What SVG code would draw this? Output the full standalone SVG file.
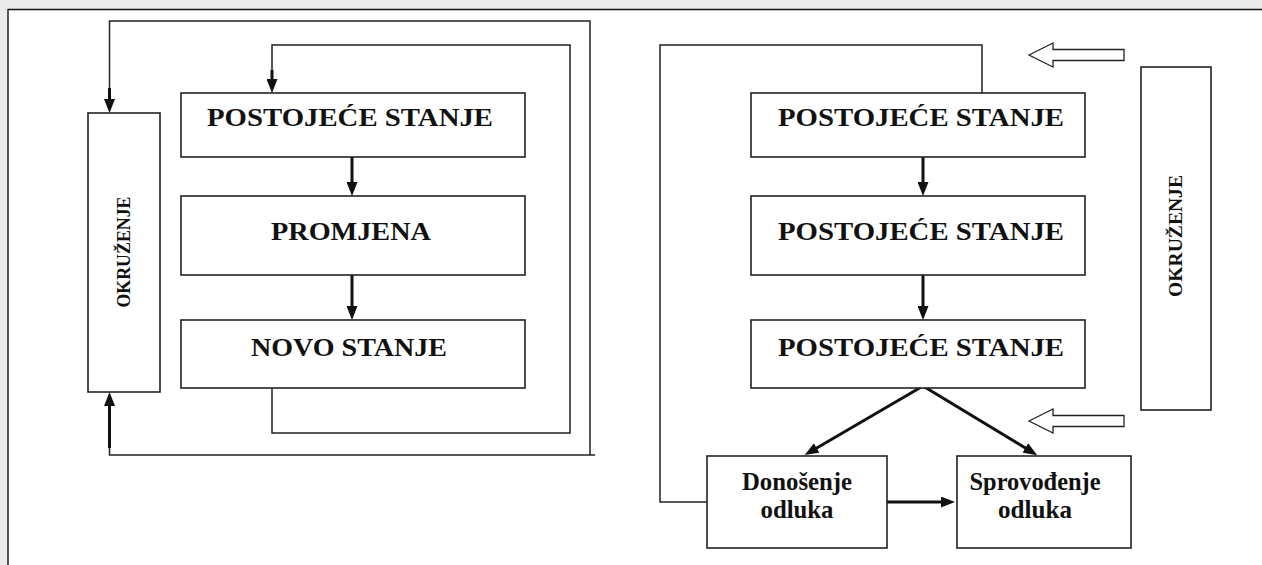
<svg xmlns="http://www.w3.org/2000/svg" width="1262" height="565" viewBox="0 0 1262 565">
  <style>
    .box { fill: #ffffff; stroke: #222; stroke-width: 1.6; }
    .wire { fill: none; stroke: #222; stroke-width: 1.5; }
    .thick { fill: none; stroke: #111; stroke-width: 3; }
    .hollow { fill: #ffffff; stroke: #222; stroke-width: 1.3; }
    .lbl { font-family: "Liberation Serif", "Times New Roman", serif; font-weight: bold; fill: #111; }
    .big { font-size: 26px; }
    .side { font-size: 18px; }
  </style>
  <defs>
    <marker id="ah" viewBox="0 0 14 11" refX="2" refY="5.5" markerWidth="14" markerHeight="11" markerUnits="userSpaceOnUse" orient="auto">
      <path d="M0,0 L14,5.5 L0,11 z" fill="#111"/>
    </marker>
  </defs>

  <!-- page background / scan frame -->
  <rect x="0" y="0" width="1262" height="565" fill="#ffffff"/>
  <rect x="0" y="0" width="1262" height="9" fill="#ebebeb"/>
  <rect x="0" y="0" width="8" height="565" fill="#ebebeb"/>
  <line x1="8" y1="9.5" x2="1262" y2="9.5" stroke="#111" stroke-width="1.5"/>
  <line x1="8" y1="9" x2="8" y2="565" stroke="#222" stroke-width="1.5"/>

  <g id="connectors">
    <!-- left diagram: outer loop -->
    <polyline class="wire" points="109.5,100 109.5,21 590,21 590,455"/>
    <polyline class="wire" points="595,455 109.5,455 109.5,440"/>
    <line class="thick" x1="109.5" y1="88" x2="109.5" y2="101" marker-end="url(#ah)"/>
    <line class="thick" x1="109.5" y1="448" x2="109.5" y2="404" marker-end="url(#ah)"/>
    <!-- left diagram: inner loop -->
    <polyline class="wire" points="272,388 272,433 570,433 570,45 272,45 272,80"/>
    <line class="thick" x1="272" y1="70" x2="272" y2="81" marker-end="url(#ah)"/>
    <!-- left diagram: vertical flow -->
    <line class="thick" x1="352" y1="157" x2="352" y2="184" marker-end="url(#ah)"/>
    <line class="thick" x1="352" y1="275" x2="352" y2="308" marker-end="url(#ah)"/>

    <!-- right diagram: feedback loop -->
    <polyline class="wire" points="707,502 660,502 660,45 982,45 982,93"/>
    <!-- right diagram: vertical flow -->
    <line class="thick" x1="923" y1="157" x2="923" y2="184" marker-end="url(#ah)"/>
    <line class="thick" x1="923" y1="275" x2="923" y2="308" marker-end="url(#ah)"/>
    <!-- diverging arrows -->
    <line class="thick" x1="923" y1="386" x2="815" y2="449" marker-end="url(#ah)"/>
    <line class="thick" x1="923" y1="386" x2="1027" y2="449" marker-end="url(#ah)"/>
    <!-- decision to implementation -->
    <line class="thick" x1="887" y1="502" x2="943" y2="502" marker-end="url(#ah)"/>
    <!-- environment influence (hollow arrows) -->
    <polygon class="hollow" points="1029,55 1053,43 1053,49.5 1124,49.5 1124,60.5 1053,60.5 1053,67"/>
    <polygon class="hollow" points="1029,421 1053,409 1053,415.5 1124,415.5 1124,426.5 1053,426.5 1053,433"/>
  </g>

  <!-- left diagram nodes -->
  <g id="okruzenje-left">
    <rect class="box" x="88" y="113" width="72" height="279"/>
    <text class="lbl side" transform="translate(130,252) rotate(-90)" text-anchor="middle" textLength="111" lengthAdjust="spacingAndGlyphs">OKRUŽENJE</text>
  </g>
  <g id="postojece-left">
    <rect class="box" x="181" y="93" width="344" height="64"/>
    <text class="lbl big" x="207" y="126" textLength="286" lengthAdjust="spacingAndGlyphs">POSTOJEĆE  STANJE</text>
  </g>
  <g id="promjena">
    <rect class="box" x="181" y="196" width="344" height="79"/>
    <text class="lbl big" x="271" y="240" textLength="160" lengthAdjust="spacingAndGlyphs">PROMJENA</text>
  </g>
  <g id="novo-stanje">
    <rect class="box" x="181" y="320" width="344" height="68"/>
    <text class="lbl big" x="251" y="356" textLength="196" lengthAdjust="spacingAndGlyphs">NOVO STANJE</text>
  </g>

  <!-- right diagram nodes -->
  <g id="postojece-1">
    <rect class="box" x="751" y="93" width="334" height="64"/>
    <text class="lbl big" x="778" y="126" textLength="286" lengthAdjust="spacingAndGlyphs">POSTOJEĆE  STANJE</text>
  </g>
  <g id="postojece-2">
    <rect class="box" x="751" y="196" width="334" height="79"/>
    <text class="lbl big" x="778" y="240" textLength="286" lengthAdjust="spacingAndGlyphs">POSTOJEĆE  STANJE</text>
  </g>
  <g id="postojece-3">
    <rect class="box" x="751" y="320" width="334" height="68"/>
    <text class="lbl big" x="778" y="356" textLength="286" lengthAdjust="spacingAndGlyphs">POSTOJEĆE  STANJE</text>
  </g>
  <g id="donosenje">
    <rect class="box" x="707" y="456" width="180" height="92"/>
    <text class="lbl big" x="797" y="490" text-anchor="middle" textLength="110" lengthAdjust="spacingAndGlyphs">Donošenje</text>
    <text class="lbl big" x="797" y="518" text-anchor="middle" textLength="73" lengthAdjust="spacingAndGlyphs">odluka</text>
  </g>
  <g id="sprovodjenje">
    <rect class="box" x="957" y="456" width="174" height="92"/>
    <text class="lbl big" x="1035" y="490" text-anchor="middle" textLength="131" lengthAdjust="spacingAndGlyphs">Sprovođenje</text>
    <text class="lbl big" x="1035" y="518" text-anchor="middle" textLength="74" lengthAdjust="spacingAndGlyphs">odluka</text>
  </g>
  <g id="okruzenje-right">
    <rect class="box" x="1141" y="67" width="70" height="343"/>
    <text class="lbl side" transform="translate(1182,236) rotate(-90)" text-anchor="middle" textLength="122" lengthAdjust="spacingAndGlyphs">OKRUŽENJE</text>
  </g>
</svg>
